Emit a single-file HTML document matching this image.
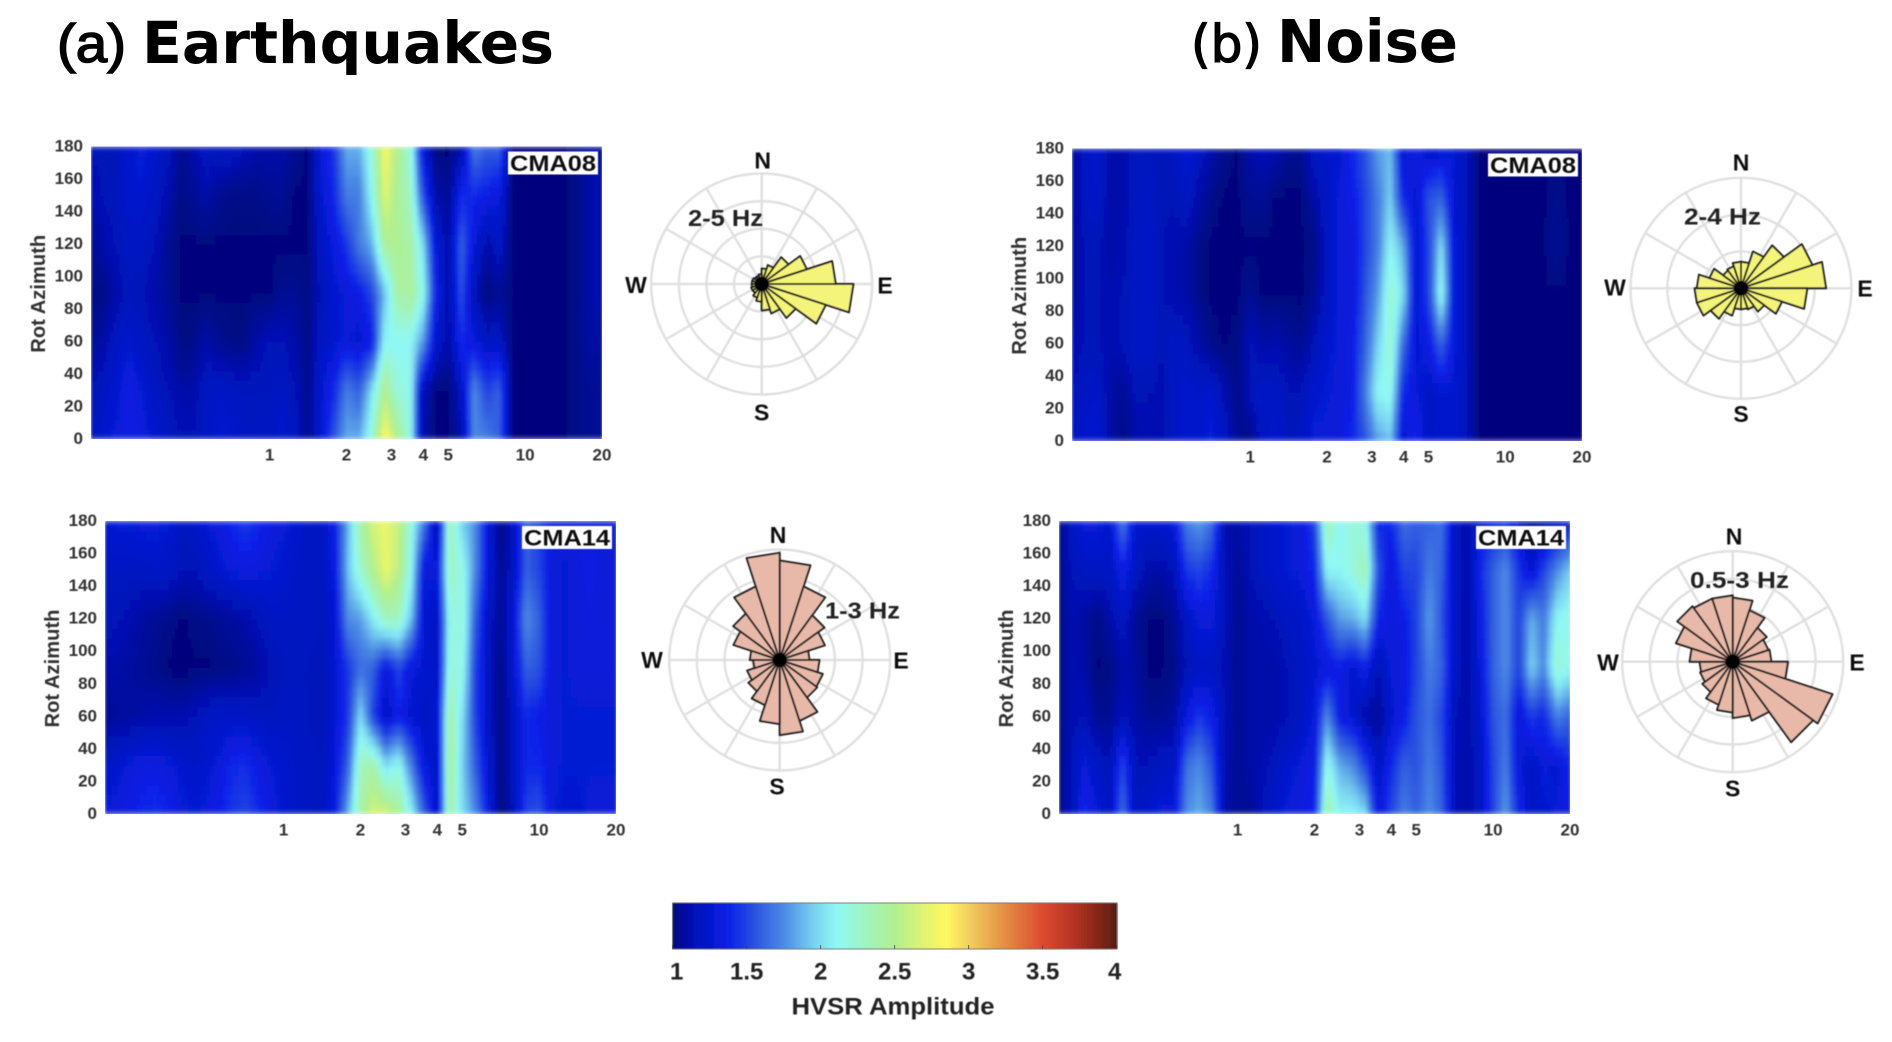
<!DOCTYPE html>
<html>
<head>
<meta charset="utf-8">
<title>HVSR Earthquakes and Noise</title>
<style>
html,body{margin:0;padding:0;background:#fff;}
svg{display:block;}
text{font-family:"Liberation Sans",sans-serif;}
</style>
</head>
<body>
<svg id="fig" xmlns="http://www.w3.org/2000/svg" width="1892" height="1042" viewBox="0 0 1892 1042">
<defs>
<filter id="soft" x="-5%" y="-5%" width="110%" height="110%"><feGaussianBlur stdDeviation="0.55"/></filter>
<filter id="heatBlur" x="-2%" y="-2%" width="104%" height="104%"><feGaussianBlur stdDeviation="1.4 3"/></filter>
<filter id="roseSoft" x="-5%" y="-5%" width="110%" height="110%"><feGaussianBlur stdDeviation="0.5"/></filter>
</defs>
<rect width="1892" height="1042" fill="#fff"/>
<text x="57" y="62" font-size="54" textLength="69" lengthAdjust="spacingAndGlyphs" fill="#000" stroke="#000" stroke-width="1.5">(a)</text>
<text x="142" y="63" font-size="58" font-weight="700" textLength="412" lengthAdjust="spacingAndGlyphs" style="font-family:'DejaVu Sans',sans-serif" fill="#000">Earthquakes</text>
<text x="1191" y="62" font-size="52" textLength="71" lengthAdjust="spacingAndGlyphs" style="font-family:'DejaVu Sans',sans-serif" fill="#000" stroke="#000" stroke-width="1.3">(b)</text>
<text x="1277" y="62" font-size="59" font-weight="700" textLength="181" lengthAdjust="spacingAndGlyphs" style="font-family:'DejaVu Sans',sans-serif" fill="#000">Noise</text>
<g id="plots"></g>
</svg>
<script>
const frequencies = [0.2,0.224,0.251,0.282,0.316,0.355,0.398,0.447,0.501,0.562,0.631,0.708,0.794,0.891,1,1.12,1.26,1.41,1.58,1.78,2,2.24,2.51,2.82,3.16,3.55,3.98,4.47,5.01,5.62,6.31,7.08,7.94,8.91,10,11.2,12.6,14.1,15.8,17.8,20];
const azimuths = [0,30,60,90,120,150,180];
const xTickValues = [1,2,3,4,5,10,20];
const yTickValues = [0,20,40,60,80,100,120,140,160,180];
const colorbarTicks = [1,1.5,2,2.5,3,3.5,4];
const colorbarLabels = ['1','1.5','2','2.5','3','3.5','4'];
const colormapValues = [1,1.12,1.375,1.55,1.75,1.95,2.11,2.3,2.5,2.7,2.85,3,3.2,3.5,3.7,4];
const colormapColors = ['#00067e','#0010b0','#0a20e8','#2a52e0','#4c8ae4','#78d0f0','#90f8f4','#a0f4c0','#b0f090','#e0f470','#fcf860','#f2d060','#e49a48','#dc4a30','#b83424','#5c1c10'];

const hvsrEq08 = [
[1.2,1.25,1.3,1.35,1.33,1.25,1.2,1.15,1.15,1.2,1.25,1.25,1.2,1.2,1.2,1.25,1.2,1.05,1.25,1.55,1.85,1.85,2.2,2.85,2.5,2.15,1.1,1,1,1.1,1.75,1.7,1.6,1,1,1,1,1,1.02,1.05,1.05],
[1.15,1.2,1.25,1.35,1.28,1.2,1.15,1.1,1.1,1.2,1.22,1.2,1.18,1.18,1.18,1.2,1.15,1.03,1.25,1.4,1.7,1.6,2,2.5,2.2,2.15,1.15,1,1,1.2,1.75,1.5,1.6,1,1,1,1,1,1.02,1.05,1.05],
[1.05,1.1,1.2,1.25,1.2,1.15,1.1,1.02,1.02,1.1,1.05,1.02,1.02,1.1,1.15,1.15,1.1,1.02,1.2,1.25,1.3,1.25,1.35,2.1,2.1,2.1,1.8,1.25,1.1,1.4,1.3,1.2,1.2,1,1,1,1,1,1.02,1.08,1.08],
[1.02,1.02,1.1,1.18,1.15,1.1,1.05,1,1,1,1,1,1,1,1,1.05,1.05,1.02,1.15,1.25,1.3,1.35,1.5,1.9,2.4,2.45,2.15,1.4,1.1,1.55,1.15,1,1.05,1,1,1,1,1,1.02,1.1,1.12],
[1.05,1.1,1.15,1.2,1.2,1.15,1.05,1,1,1,1,1,1,1,1,1,1,1,1.2,1.3,1.45,1.7,1.85,2.45,2.5,2.4,2,1.3,1.1,1.6,1.3,1.1,1.2,1,1,1,1,1,1.02,1.1,1.12],
[1.12,1.15,1.18,1.25,1.25,1.2,1.12,1.02,1.05,1.1,1.05,1.02,1.02,1.02,1.05,1.05,1,1,1.25,1.4,1.7,1.7,2.1,2.7,2.45,2.3,1.55,1.1,1.05,1.4,1.4,1.35,1.3,1,1,1,1,1,1.02,1.1,1.12],
[1.15,1.15,1.15,1.25,1.3,1.25,1.18,1.05,1.1,1.2,1.2,1.2,1.15,1.1,1.1,1.1,1.05,1,1.3,1.45,1.85,1.85,2.2,2.8,2.5,2.2,1.3,1,1,1.1,1.7,1.6,1.6,1,1,1,1,1,1.02,1.1,1.1]
];
const hvsrEq14 = [
[1.3,1.32,1.35,1.4,1.42,1.38,1.3,1.28,1.3,1.38,1.45,1.5,1.42,1.32,1.25,1.22,1.2,1.18,1.3,1.85,2.4,2.65,2.65,2.45,2.1,1.6,1.2,2.4,2,1.75,1.35,1,1.15,1.5,1.55,1.3,1.25,1.25,1.3,1.3,1.3],
[1.22,1.25,1.3,1.33,1.33,1.3,1.25,1.22,1.25,1.3,1.4,1.42,1.33,1.28,1.25,1.22,1.2,1.18,1.28,1.6,2.3,2.4,2,2.15,1.7,1.3,1.2,2.45,1.95,1.6,1.25,1.02,1.2,1.4,1.4,1.3,1.28,1.28,1.28,1.28,1.28],
[1.05,1.07,1.08,1.1,1.12,1.12,1.12,1.15,1.2,1.22,1.22,1.22,1.2,1.18,1.2,1.2,1.18,1.15,1.25,1.45,2,1.5,1.2,1.35,1.25,1.2,1.25,2.4,2,1.5,1.2,1.02,1.2,1.4,1.35,1.3,1.28,1.28,1.28,1.28,1.28],
[1.1,1.1,1.08,1.05,1.03,1,0.98,1,1,1.02,1.02,1.05,1.08,1.15,1.18,1.18,1.18,1.15,1.25,1.45,1.65,1.6,1.3,1.5,1.3,1.25,1.2,2.2,2.15,1.5,1.2,1.02,1.25,1.6,1.55,1.3,1.28,1.3,1.3,1.3,1.3],
[1.18,1.15,1.12,1.08,1.05,1.03,1,1.02,1.03,1.05,1.08,1.1,1.15,1.2,1.2,1.2,1.2,1.18,1.25,1.75,1.8,2.05,2.3,2.3,1.9,1.25,1.2,2.15,2.2,1.6,1.2,1.05,1.3,1.75,1.6,1.3,1.28,1.3,1.32,1.3,1.3],
[1.2,1.2,1.2,1.2,1.22,1.2,1.15,1.15,1.2,1.25,1.3,1.32,1.3,1.28,1.25,1.22,1.2,1.2,1.3,1.9,2.25,2.5,2.75,2.55,2.1,1.3,1.3,2.3,2.15,1.75,1.3,1.05,1.2,1.6,1.5,1.3,1.28,1.3,1.35,1.3,1.3],
[1.25,1.28,1.28,1.3,1.3,1.28,1.2,1.22,1.28,1.32,1.4,1.45,1.4,1.32,1.3,1.25,1.2,1.2,1.35,1.85,2.4,2.65,2.75,2.6,2.15,1.7,1.1,2.35,1.95,1.75,1.3,1,1.2,1.6,1.5,1.35,1.3,1.35,1.35,1.3,1.3]
];
const hvsrNoise08 = [
[1.15,1.25,1.25,1.1,1.02,1.1,1.12,1.12,1.2,1.25,1.25,1.3,1.2,1.05,1.02,1.2,1.25,1.18,1.2,1.3,1.3,1.3,1.4,1.55,1.8,1.9,1.25,1.4,1.2,1.25,1.25,1.15,1,1,1,1,1,1,1,1,1],
[1.15,1.2,1.22,1.1,1.05,1.15,1.15,1.12,1.2,1.25,1.22,1.25,1.12,1.02,1.15,1.22,1.2,1.15,1.15,1.25,1.28,1.3,1.35,1.7,2.1,2.15,1.4,1.3,1.2,1.25,1.25,1.15,1,1,1,1,1,1,1,1,1],
[1.1,1.15,1.15,1.12,1.15,1.22,1.22,1.15,1.2,1.18,1.1,1.02,1,1.02,1.15,1.1,1.12,1.08,1.05,1.15,1.25,1.3,1.35,1.6,1.95,2.25,1.65,1.25,1.35,1.6,1.3,1.15,1,1,1,1,1,1,1,1,1],
[1.05,1.15,1.15,1.12,1.15,1.2,1.22,1.15,1.12,1.1,1.02,1,1,1,1.05,1,1,1,1,1.05,1.2,1.3,1.3,1.55,1.8,2.25,2,1.25,1.5,2.15,1.3,1.15,1,1,1,1,1,1,1,1,1],
[1.05,1.15,1.15,1.1,1.12,1.2,1.22,1.15,1.12,1.1,1.02,1,1,1,1,1,1,1,1,1.02,1.2,1.3,1.3,1.5,1.7,2.1,1.85,1.25,1.5,2,1.3,1.15,1,1,1,1,1,1,1.06,1,1],
[1.05,1.2,1.22,1.1,1.1,1.18,1.22,1.15,1.15,1.2,1.1,1.02,1,1,1.05,1.05,1,1,1,1.1,1.2,1.3,1.35,1.5,1.7,1.95,1.4,1.25,1.55,1.6,1.25,1.15,1,1,1,1,1,1,1.04,1,1],
[1.05,1.2,1.25,1.1,1.1,1.18,1.18,1.15,1.2,1.28,1.2,1.1,1.03,1,1.1,1.15,1.12,1.05,1.05,1.2,1.25,1.25,1.4,1.55,1.8,1.9,1.25,1.35,1.2,1.25,1.28,1.15,1,1,1,1,1,1,1,1,1]
];
const hvsrNoise14 = [
[1.03,1.15,1.4,1.3,1.2,1.65,1.2,1.25,1.3,1.3,1.75,1.85,1.7,1.1,1.05,1.05,1.15,1.25,1.3,1.32,1.4,2.4,2.1,2.1,2,1.3,1.5,1.7,1.6,1.75,1.6,1.15,1.1,1.2,1.5,1.8,1.4,1.2,1.25,1.3,1.35],
[1.03,1.15,1.3,1.2,1.15,1.5,1.15,1.15,1.2,1.2,1.65,1.75,1.55,1.12,1.05,1.1,1.12,1.18,1.25,1.3,1.35,2.15,1.85,1.75,1.5,1.2,1.4,1.6,1.55,1.7,1.55,1.15,1.1,1.2,1.5,1.7,1.3,1.2,1.3,1.25,1.4],
[1.03,1.12,1.15,1.05,1.05,1.15,1.1,1.05,1.05,1.08,1.3,1.45,1.35,1.15,1.05,1.1,1.1,1.1,1.15,1.2,1.3,1.75,1.35,1.25,1.1,1.05,1.25,1.35,1.55,1.65,1.5,1.15,1.1,1.25,1.55,1.65,1.3,1.45,1.4,1.7,1.6],
[1.03,1.12,1.1,1,1.02,1.1,1.08,1,1,1.02,1.15,1.2,1.2,1.12,1.05,1.1,1.1,1.1,1.15,1.2,1.25,1.3,1.35,1.25,1.35,1.15,1.3,1.3,1.5,1.7,1.6,1.2,1.1,1.3,1.6,1.75,1.5,1.95,1.75,2.25,2.1],
[1.03,1.12,1.08,1.02,1.1,1.2,1.05,1,1,1.05,1.2,1.3,1.3,1.15,1.05,1.1,1.12,1.15,1.2,1.22,1.3,1.55,1.8,1.85,2,1.4,1.3,1.35,1.5,1.8,1.55,1.2,1.1,1.35,1.6,1.75,1.5,1.85,1.7,2.1,2.15],
[1.03,1.15,1.2,1.2,1.2,1.35,1.2,1.1,1.1,1.15,1.45,1.5,1.4,1.15,1.05,1.15,1.2,1.25,1.28,1.3,1.4,2.1,2.1,2.2,2.35,1.55,1.3,1.5,1.5,1.7,1.6,1.2,1.1,1.4,1.6,1.75,1.45,1.25,1.5,1.75,1.95],
[1.03,1.2,1.3,1.3,1.25,1.7,1.25,1.25,1.25,1.3,1.7,1.8,1.65,1.1,1.1,1.15,1.2,1.25,1.28,1.3,1.5,2.35,2.1,2.2,2.15,1.4,1.4,1.65,1.6,1.6,1.65,1.2,1.1,1.3,1.4,1.45,1.25,1.05,1.1,1.2,1.3]
];

const roseEq08 = [0.14,0.18,0.30,0.43,0.67,0.83,0.61,0.38,0.28,0.24,0.16,0.13,0.10,0.10,0.09,0.09,0.09,0.08,0.08,0.09];
const roseEq14 = [0.90,0.70,0.50,0.43,0.27,0.36,0.41,0.42,0.58,0.68,0.58,0.43,0.35,0.31,0.24,0.27,0.44,0.52,0.70,0.97];
const roseNoise08 = [0.24,0.35,0.48,0.68,0.77,0.60,0.39,0.26,0.20,0.19,0.19,0.26,0.34,0.42,0.42,0.40,0.30,0.20,0.21,0.24];
const roseNoise14 = [0.58,0.49,0.38,0.34,0.35,0.50,0.95,0.90,0.56,0.51,0.46,0.41,0.34,0.31,0.30,0.39,0.54,0.62,0.60,0.60];
const compassLabels = ['N','S','W','E'];

const SVGNS = 'http://www.w3.org/2000/svg';
const root = document.getElementById('plots');

function mk(parent, tag, attrs) {
  const el = document.createElementNS(SVGNS, tag);
  for (const k in attrs) el.setAttribute(k, attrs[k]);
  parent.appendChild(el);
  return el;
}
function hexToRgb(h) {
  return [parseInt(h.slice(1,3),16), parseInt(h.slice(3,5),16), parseInt(h.slice(5,7),16)];
}
function colorFor(v) {
  const n = colormapValues.length;
  if (v <= colormapValues[0]) return colormapColors[0];
  if (v >= colormapValues[n-1]) return colormapColors[n-1];
  let i = 0;
  while (v > colormapValues[i+1]) i++;
  const t = (v - colormapValues[i]) / (colormapValues[i+1] - colormapValues[i]);
  const a = hexToRgb(colormapColors[i]), b = hexToRgb(colormapColors[i+1]);
  return 'rgb(' + Math.round(a[0]+(b[0]-a[0])*t) + ',' + Math.round(a[1]+(b[1]-a[1])*t) + ',' + Math.round(a[2]+(b[2]-a[2])*t) + ')';
}
function label(parent, x, y, str, size, anchor, weight, fill, len) {
  const attrs = {x:x, y:y, 'font-size':size, 'text-anchor':anchor, 'font-weight':weight, fill:fill, 'dominant-baseline':'central'};
  if (len) { attrs.textLength = len; attrs.lengthAdjust = 'spacingAndGlyphs'; }
  const t = mk(parent, 'text', attrs);
  t.textContent = str;
  return t;
}

let clipCounter = 0;
function drawHeatmap(box, values, station, key) {
  const W = box.right - box.left, H = box.bottom - box.top;
  const xScale = f => box.left + Math.log10(f / frequencies[0]) / Math.log10(frequencies[frequencies.length-1] / frequencies[0]) * W;
  const yScale = az => box.bottom - az / 180 * H;
  const panel = mk(root, 'g', {});
  
  
  const clipId = 'clip' + (clipCounter++);
  const defs = mk(panel, 'clipPath', {id: clipId});
  mk(defs, 'rect', {x: box.left, y: box.top, width: W, height: H});
  const clipped = mk(panel, 'g', {'clip-path': 'url(#' + clipId + ')'});
  const cells = mk(clipped, 'g', {filter: 'url(#heatBlur)', 'shape-rendering': 'crispEdges'});
  
  
  const subX = 4, subY = 5;
  for (let r = 0; r < azimuths.length - 1; r++) {
    for (let c = 0; c < frequencies.length - 1; c++) {
      for (let sy = 0; sy < subY; sy++) {
        const ty0 = sy / subY, ty1 = (sy + 1) / subY, tyc = (sy + 0.5) / subY;
        const y0 = yScale(azimuths[r] + (azimuths[r+1] - azimuths[r]) * ty1);
        const y1 = yScale(azimuths[r] + (azimuths[r+1] - azimuths[r]) * ty0);
        for (let sx = 0; sx < subX; sx++) {
          const tx0 = sx / subX, tx1 = (sx + 1) / subX, txc = (sx + 0.5) / subX;
          const fA = frequencies[c] * Math.pow(frequencies[c+1] / frequencies[c], tx0);
          const fB = frequencies[c] * Math.pow(frequencies[c+1] / frequencies[c], tx1);
          const x0 = xScale(fA), x1 = xScale(fB);
          const v = (values[r][c] * (1 - txc) + values[r][c+1] * txc) * (1 - tyc) + (values[r+1][c] * (1 - txc) + values[r+1][c+1] * txc) * tyc;
          const cell = mk(cells, 'rect', {x: x0.toFixed(1), y: y0.toFixed(1), width: (x1 - x0 + 0.6).toFixed(1), height: (y1 - y0 + 0.6).toFixed(1), fill: colorFor(v)});
          
          
        }
      }
    }
  }
  const tagBox = mk(panel, 'rect', {x: box.right - 94, y: box.top + 5, width: 90, height: 23, fill: '#fff', filter: 'url(#soft)'});
  
  
  const textGroup = mk(panel, 'g', {filter: 'url(#soft)'});
  
  
  yTickValues.forEach(v => {
    const t = label(textGroup, box.left - 8, yScale(v) - 0.5, String(v), 17, 'end', '700', '#333');
    
    
  });
  xTickValues.forEach(v => {
    const t = label(textGroup, xScale(v), box.bottom + 16, String(v), 17, 'middle', '700', '#333');
    
    
  });
  const yTitleX = box.left - 52, yTitleY = (box.top + box.bottom) / 2 + 1;
  const yTitle = label(textGroup, 0, 0, 'Rot Azimuth', 20, 'middle', '700', '#333', 118);
  yTitle.setAttribute('transform', 'translate(' + yTitleX + ',' + yTitleY + ') rotate(-90)');
  
  
  const tag = label(textGroup, box.right - 49, box.top + 17, station, 22, 'middle', '700', '#111', 86);
  
  
}

function drawRose(rose, values, fill, key) {
  const g = mk(root, 'g', {});
  
  
  const rScale = v => v * rose.radius;
  const point = (deg, r) => {
    const a = deg * Math.PI / 180;
    return [rose.cx + Math.sin(a) * rScale(r), rose.cy - Math.cos(a) * rScale(r)];
  };
  const grid = mk(g, 'g', {fill: 'none', stroke: '#e0e0e0', 'stroke-width': 2.4, filter: 'url(#roseSoft)'});
  
  
  for (let i = 1; i <= rose.rings; i++) {
    const ring = mk(grid, 'circle', {cx: rose.cx, cy: rose.cy, r: rScale(i / rose.rings)});
    
    
  }
  for (let d = 0; d < 360; d += 30) {
    const p = point(d, 1);
    const spoke = mk(grid, 'line', {x1: rose.cx, y1: rose.cy, x2: p[0], y2: p[1]});
    
    
  }
  const petals = mk(g, 'g', {filter: 'url(#roseSoft)'});
  
  
  const binWidth = 360 / values.length;
  values.forEach((v, i) => {
    const a = point(i * binWidth, v), b = point((i + 1) * binWidth, v);
    const petal = mk(petals, 'polygon', {points: rose.cx + ',' + rose.cy + ' ' + a.join(',') + ' ' + b.join(','), fill: fill, stroke: '#222', 'stroke-width': 2, 'stroke-linejoin': 'round'});
    
    
  });
  const dot = mk(petals, 'circle', {cx: rose.cx, cy: rose.cy, r: 7, fill: '#000'});
  
  
  const tg = mk(g, 'g', {filter: 'url(#soft)'});
  
  
  compassLabels.forEach((txt, i) => {
    const pos = rose.compass[i];
    const t = label(tg, pos[0], pos[1], txt, 23, 'middle', '700', '#111');
    
    
  });
  const band = label(tg, rose.band[0], rose.band[1], rose.bandText, 23, 'start', '700', '#222', rose.band[2]);
  
  
}

function drawColorbar() {
  const box = {left: 672.7, right: 1116.7, top: 903, bottom: 949};
  const vMin = colorbarTicks[0], vMax = colorbarTicks[colorbarTicks.length - 1];
  const xScale = v => box.left + (v - vMin) / (vMax - vMin) * (box.right - box.left);
  const g = mk(root, 'g', {});
  
  
  const strip = mk(g, 'g', {filter: 'url(#roseSoft)', 'shape-rendering': 'crispEdges'});
  
  
  const steps = 150;
  for (let i = 0; i < steps; i++) {
    const v0 = vMin + (vMax - vMin) * i / steps, v1 = vMin + (vMax - vMin) * (i + 1) / steps;
    const s = mk(strip, 'rect', {x: xScale(v0).toFixed(2), y: box.top, width: (xScale(v1) - xScale(v0) + 0.6).toFixed(2), height: box.bottom - box.top, fill: colorFor((v0 + v1) / 2)});
    
    
  }
  const frame = mk(g, 'rect', {x: box.left, y: box.top, width: box.right - box.left, height: box.bottom - box.top, fill: 'none', stroke: '#666', 'stroke-width': 0.8});
  
  
  const tg = mk(g, 'g', {filter: 'url(#soft)'});
  
  
  colorbarTicks.forEach((v, i) => {
    const tick = mk(g, 'line', {x1: xScale(v), x2: xScale(v), y1: box.bottom, y2: box.bottom - 4, stroke: '#444', 'stroke-width': 0.8});
    
    
    const t = label(tg, xScale(v) + (i === 0 ? 4 : 0) - (i === colorbarTicks.length - 1 ? 2 : 0), 972, colorbarLabels[i], 24, 'middle', '700', '#222');
    
    
  });
  const title = label(tg, 893, 1007, 'HVSR Amplitude', 24, 'middle', '700', '#222', 203);
  
  
}

const boxEq08 = {left: 91, right: 602, top: 146.5, bottom: 439};
const boxEq14 = {left: 105, right: 616, top: 521, bottom: 814};
const boxNoise08 = {left: 1072, right: 1582, top: 148.5, bottom: 441};
const boxNoise14 = {left: 1059, right: 1570, top: 521, bottom: 814};

drawHeatmap(boxEq08, hvsrEq08, 'CMA08', 'a-cma08');
drawHeatmap(boxEq14, hvsrEq14, 'CMA14', 'a-cma14');
drawHeatmap(boxNoise08, hvsrNoise08, 'CMA08', 'b-cma08');
drawHeatmap(boxNoise14, hvsrNoise14, 'CMA14', 'b-cma14');

drawRose({cx: 761.7, cy: 284, radius: 110.5, rings: 4, compass: [[762.7,160.7],[761.7,412.7],[636,285],[885,285.7]], band: [688,218,75], bandText: '2-5 Hz'}, roseEq08, '#f4f47a', 'a-cma08');
drawRose({cx: 779.7, cy: 660, radius: 110.5, rings: 4, compass: [[778,535],[777,786.7],[652,660],[901,660.7]], band: [825,610.7,75], bandText: '1-3 Hz'}, roseEq14, '#e8b9a8', 'a-cma14');
drawRose({cx: 1741, cy: 288.3, radius: 110.5, rings: 3, compass: [[1741,162.7],[1741,414],[1615,287.7],[1865,288.3]], band: [1684,216.7,77], bandText: '2-4 Hz'}, roseNoise08, '#f4f47a', 'b-cma08');
drawRose({cx: 1732.7, cy: 661.7, radius: 110.5, rings: 4, compass: [[1734,536.7],[1732.7,788.3],[1608,662.7],[1857,662.7]], band: [1690,580,99], bandText: '0.5-3 Hz'}, roseNoise14, '#e8b9a8', 'b-cma14');

drawColorbar();
</script>
</body>
</html>
